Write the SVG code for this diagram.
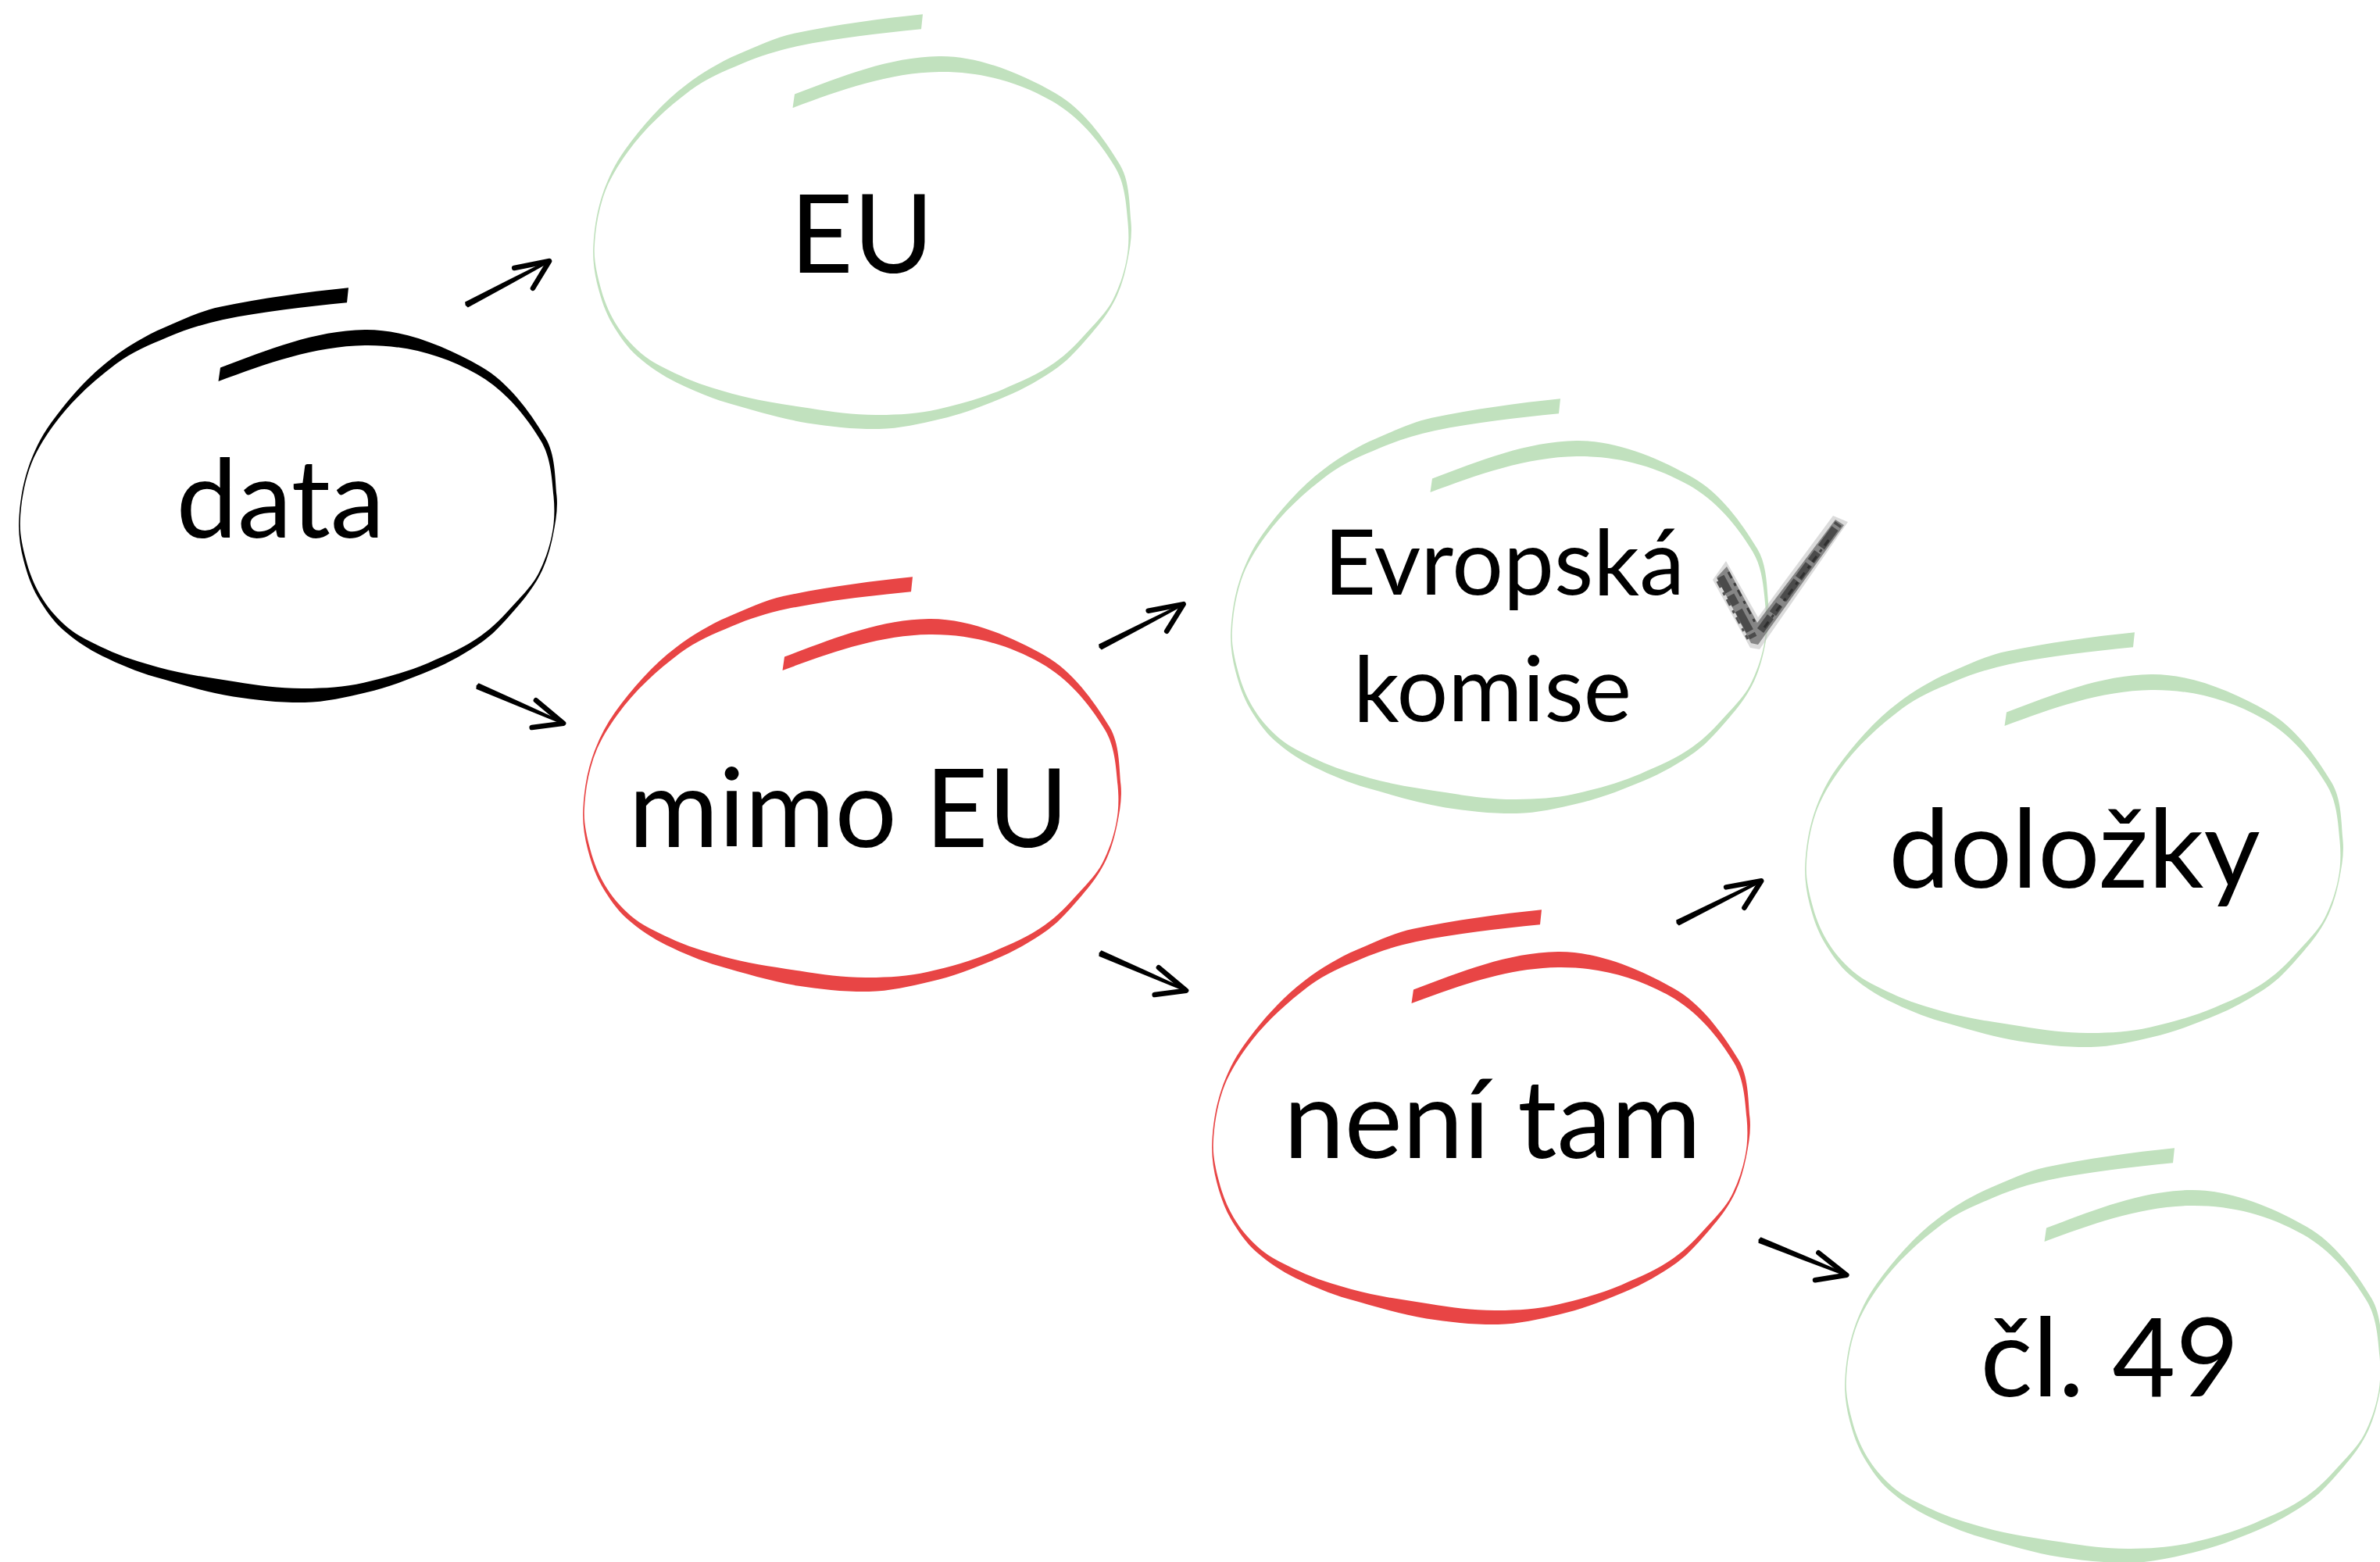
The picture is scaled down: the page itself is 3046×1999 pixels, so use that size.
<svg xmlns="http://www.w3.org/2000/svg" width="3046" height="1999" viewBox="0 0 3046 1999">
<style>
text { font-family: Lato, "Liberation Sans", sans-serif; fill: #000; text-anchor: middle; }
.big { font-size: 140px; }
.mid { font-size: 116px; }
.black { fill: #000; }
.red { fill: #e84545; }
.green { fill: #c1e1be; }
.shaft { fill: #000; }
.head { fill: none; stroke: #000; stroke-width: 6.5; stroke-linecap: round; stroke-linejoin: round; }
</style>
<defs>
<path id="loop" d="M282,470.5 C342.1,448.1 402.8,422.9 466.9,422 C517.5,421.3 571.7,444.2 615.7,469.2 C650.5,489 677.2,525.9 698,560.2 C710.9,581.5 710.1,610 712.5,634.8 C714.1,651.4 711.1,668.8 707.7,685.2 C704.2,702.4 699.2,720 691.1,735.6 C683.4,750.4 673,764.2 661.9,776.7 C648.6,791.6 635.3,808.3 619,819.9 C598.3,834.6 575.3,847.8 551.9,857.6 C525.1,868.9 496.8,879.8 468.5,886.3 C443.3,892.1 416,898.7 390.1,899 C360,899.4 328.2,896.1 298.5,891.4 C264.8,886.1 231,875.5 198.2,866.3 C175.3,859.9 152.3,849.8 130.8,839.5 C113.1,831 95.8,819.1 81,806.3 C67.8,794.8 57.2,779.1 48.3,764 C39.9,749.7 34.4,733.2 30.2,717.1 C26,700.9 23.5,683.7 24.2,667 C25.2,644.3 28.6,621.2 35.8,599.7 C42.7,579.3 52.3,559.1 64.9,541.7 C87.1,511.1 113.1,481.2 143.3,458.4 C163.4,443.3 186.4,429.3 209.5,419.5 C232.5,409.7 256.8,397.9 281.3,392.7 C334.8,381.7 391.7,373.8 446,368.3 L444,387.3 C389.7,392.8 338.2,398.3 284.7,409.3 C260.2,414.5 237.5,421.7 214.5,431.5 C191.4,441.3 168.8,450.5 148.7,465.6 C118.5,488.4 90.7,513.7 68.5,544.3 C55.9,561.7 44.5,579.9 37.6,600.3 C30.4,621.8 26.8,644.3 25.8,667 C25.1,683.7 29,700.1 33.2,716.3 C37.4,732.4 43.3,747.7 51.7,762 C60.6,777.1 71.8,790.2 85,801.7 C99.8,814.5 117.5,822 135.2,830.5 C156.7,840.8 178.9,847.3 201.8,853.7 C234.6,862.9 267.8,867.3 301.5,872.6 C331.2,877.3 359.8,881.4 389.9,881 C415.8,880.7 440.3,879.5 465.5,873.7 C493.8,867.2 521.3,859.7 548.1,848.4 C571.5,838.6 594.3,828.8 615,814.1 C631.3,802.5 644.8,788.2 658.1,773.3 C669.2,760.8 681.2,749.2 688.9,734.4 C697,718.8 702.8,702 706.3,684.8 C709.7,668.4 710.1,651.8 708.5,635.2 C706.1,610.4 704.9,585.1 692,563.8 C671.2,529.5 645.1,498.6 610.3,478.8 C566.3,453.8 517.7,441.3 467.1,442 C403,442.9 339.6,465.6 279.5,488 Z"/>
<g id="arrow">
<path class="shaft" d="M0,-4 L60,-3 L117,-1.8 L117,1.8 L60,3 L0,4 L-1.5,0 Z"/>
<path class="head" d="M76,-13 L120,0 L85,21"/>
</g>
</defs>
<rect width="3046" height="1999" fill="#fff"/>

<g id="node-data">
<use href="#loop" class="black"/>
<text class="big" x="359" y="688">data</text>
</g>
<g id="node-eu">
<use href="#loop" class="green" transform="translate(735,-350)"/>
<text class="big" x="1103" y="349">EU</text>
</g>
<g id="node-mimo">
<use href="#loop" class="red" transform="translate(722,370)"/>
<text class="big" x="1086" y="1084">mimo EU</text>
</g>
<g id="node-komise">
<use href="#loop" class="green" transform="translate(1551,142)"/>
<text class="mid" x="1925" y="761">Evropská</text>
<text class="mid" x="1910" y="923">komise</text>
</g>
<g id="node-dolozky">
<use href="#loop" class="green" transform="translate(2286,441)"/>
<text class="big" x="2655" y="1136">doložky</text>
</g>
<g id="node-neni">
<use href="#loop" class="red" transform="translate(1527,796)"/>
<text class="big" x="1910" y="1482">není tam</text>
</g>
<g id="node-cl49">
<use href="#loop" class="green" transform="translate(2337,1101)"/>
<text class="big" x="2700" y="1787">čl. 49</text>
</g>

<g id="check">
<path d="M2192,742 L2209,718 L2250,790 L2346,660 L2365,668 L2252,831 L2240,829 Z" fill="#bdbdbd" opacity="0.55"/>
<path d="M2197,739 L2210,725 L2249,797 L2349,665 L2360,672 L2250,825 L2241,823 Z" fill="#777" opacity="0.85"/>
<path d="M2202,738 L2244,816 M2253,807 L2353,670" fill="none" stroke="#3c3c3c" stroke-width="10" stroke-dasharray="22 5 14 8 30 4" opacity="0.8"/>
<path d="M2198,744 L2237,818 M2258,803 L2344,686 M2212,732 L2248,800" fill="none" stroke="#262626" stroke-width="3" stroke-dasharray="9 7 4 6" opacity="0.75"/>
</g>

<g id="connectors">
<use href="#arrow" transform="translate(597,390) rotate(-27.8)"/>
<use href="#arrow" transform="translate(611,878) rotate(23.4)"/>
<use href="#arrow" transform="translate(1408,828) rotate(-27.2)"/>
<use href="#arrow" transform="translate(1408,1220) rotate(23.4)"/>
<use href="#arrow" transform="translate(2147,1181) rotate(-26.6)"/>
<use href="#arrow" transform="translate(2252,1587) rotate(21.9)"/>
</g>
</svg>
